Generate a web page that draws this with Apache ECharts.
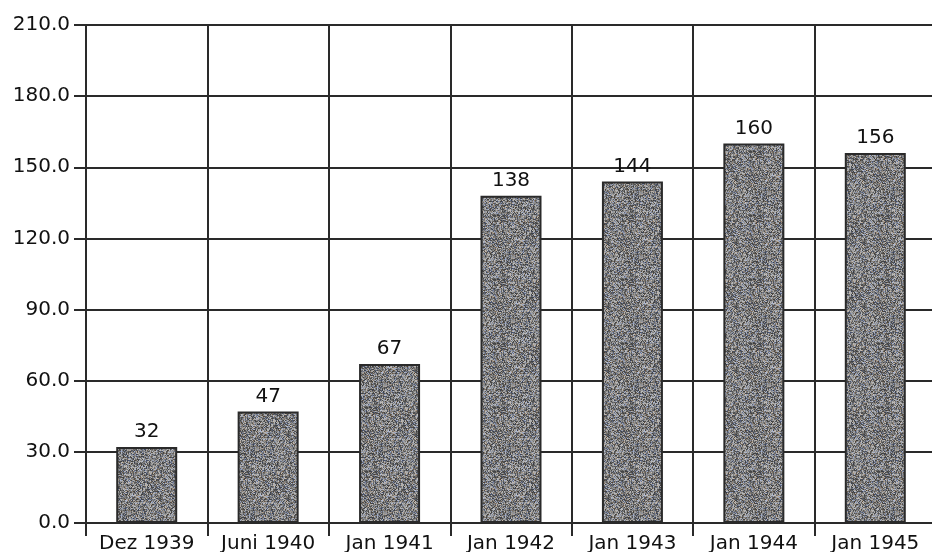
<!DOCTYPE html>
<html><head><meta charset="utf-8">
<script src="https://cdn.jsdelivr.net/npm/echarts@6/dist/echarts.min.js"></script>
<style>html,body{margin:0;padding:0;background:#fff}#c{width:932px;height:552px}</style>
</head><body><div id="c"></div>
<script>
const categories = ['Dez 1939','Juni 1940','Jan 1941','Jan 1942','Jan 1943','Jan 1944','Jan 1945'];
const values = [32, 47, 67, 138, 144, 160, 156];
const yTicks = { min: 0, max: 210, interval: 30 };

// speckled gray texture (deterministic)
function makeTexture(){
  const c = document.createElement('canvas'); c.width = 64; c.height = 64;
  const ctx = c.getContext('2d'); const img = ctx.createImageData(64,64);
  let s = 12345;
  const rnd = () => { s = (s * 1103515245 + 12345) & 0x7fffffff; return s / 0x7fffffff; };
  for (let i = 0; i < 64*64; i++){
    const v = 60 + rnd()*130;
    const t = rnd();
    let r = v, g = v, b = v;
    if (t < 0.15){ b = v + 25; r = v - 10; }
    else if (t < 0.25){ r = v + 15; b = v - 15; }
    img.data[i*4] = r; img.data[i*4+1] = g; img.data[i*4+2] = b; img.data[i*4+3] = 255;
  }
  ctx.putImageData(img,0,0); return c;
}
const font = 'DejaVu Sans';
const chart = echarts.init(document.getElementById('c'), null, {renderer:'canvas'});
chart.setOption({
  animation: false,
  backgroundColor: '#fff',
  grid: { left: 86, top: 25, bottom: 29, width: 850, containLabel: false, outerBoundsMode: 'none' },
  xAxis: {
    type: 'category', data: categories, boundaryGap: true,
    axisLine: { show: true, lineStyle: { color: '#2a2a2a', width: 2 } },
    axisTick: { show: true, length: 13, lineStyle: { color: '#2a2a2a', width: 2 } },
    splitLine: { show: true, lineStyle: { color: '#2a2a2a', width: 2 } },
    axisLabel: { color: '#111', fontFamily: font, fontSize: 20, margin: 11, interval: 0 }
  },
  yAxis: {
    type: 'value', min: yTicks.min, max: yTicks.max, interval: yTicks.interval,
    axisLine: { show: true, lineStyle: { color: '#2a2a2a', width: 2 } },
    axisTick: { show: true, length: 12, lineStyle: { color: '#2a2a2a', width: 2 } },
    splitLine: { show: true, lineStyle: { color: '#2a2a2a', width: 2 } },
    axisLabel: { color: '#111', fontFamily: font, fontSize: 20, margin: 16,
      formatter: v => v.toFixed(1) }
  },
  series: [{
    type: 'bar', data: values, barWidth: 61,
    itemStyle: { color: { image: makeTexture(), repeat: 'repeat' }, borderColor: '#2a2a2a', borderWidth: 2 },
    label: { show: true, position: 'top', distance: 5, color: '#111', fontFamily: font, fontSize: 20 }
  }]
});
</script></body></html>
